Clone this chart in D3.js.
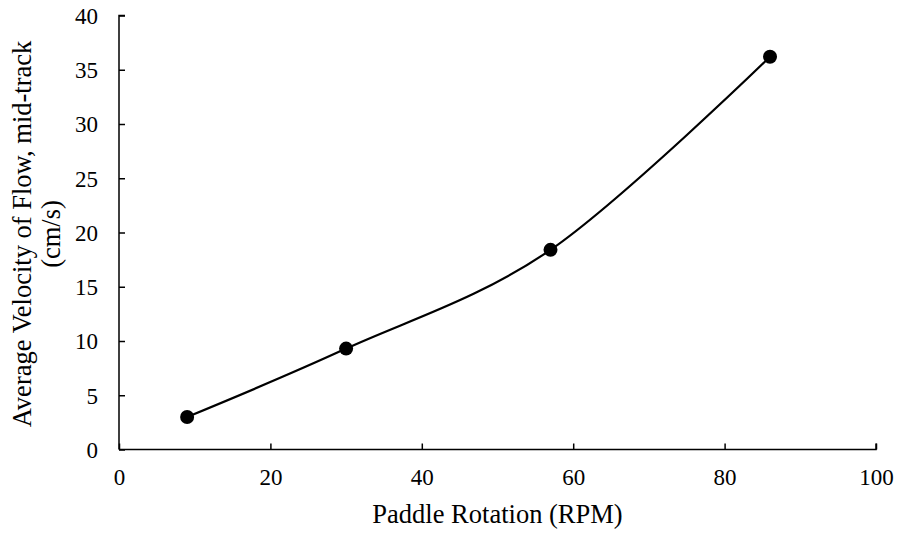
<!DOCTYPE html>
<html>
<head>
<meta charset="utf-8">
<script src="https://cdn.jsdelivr.net/npm/d3@7"></script>
<style>
  body { margin: 0; background: #fff; }
  svg text { font-family: "Liberation Serif", "Times New Roman", serif; fill: #000; }
</style>
</head>
<body>
<svg id="chart" width="902" height="534"></svg>
<script>
(function () {
  // data
  var RPM = [9, 30, 57, 86]
  var VELOCITY = [3.0, 9.3, 18.4, 36.2]
  var X_TICKS = [0, 20, 40, 60, 80, 100]
  var Y_TICKS = [0, 5, 10, 15, 20, 25, 30, 35, 40]
  var X_TITLE = 'Paddle Rotation (RPM)'
  var Y_TITLE = ['Average Velocity of Flow, mid-track', '(cm/s)']

  var TICK_FONT = '23px', TITLE_FONT = '26.5px'

  var svg = d3.select('#chart')
  var plotLeft = 119, plotRight = 876, plotTop = 15.5, plotBottom = 449.5

  var x = d3.scaleLinear().domain([0, 100]).range([plotLeft, plotRight])
  var y = d3.scaleLinear().domain([0, 40]).range([plotBottom, plotTop])

  // axes, ticks pointing inward
  var xAxis = svg.append('g')
    .attr('transform', 'translate(0,' + plotBottom + ')')
    .call(d3.axisBottom(x).tickValues(X_TICKS).tickSize(-6).tickFormat(d3.format('d')))
  var yAxis = svg.append('g')
    .attr('transform', 'translate(' + plotLeft + ',0)')
    .call(d3.axisLeft(y).tickValues(Y_TICKS).tickSize(-6).tickFormat(d3.format('d')))

  ;[xAxis, yAxis].forEach(function (g) {
    g.select('.domain').attr('stroke', '#000').attr('stroke-width', 1.5)
    g.selectAll('.tick line').attr('stroke', '#000').attr('stroke-width', 1.5)
    g.selectAll('.tick text').style('font-size', TICK_FONT).attr('fill', '#000')
  })
  xAxis.selectAll('.tick text').attr('dy', 0).attr('y', 35.5)
  yAxis.selectAll('.tick text').attr('x', -21).attr('dy', '0.34em')
  // only the axis lines, no outer stubs
  xAxis.select('.domain').attr('d', 'M' + plotLeft + ',0H' + plotRight + 'V-6')
  yAxis.select('.domain').attr('d', 'M6,' + plotTop + 'H0V' + plotBottom)

  // titles
  svg.append('text')
    .attr('x', (plotLeft + plotRight) / 2)
    .attr('y', 523)
    .attr('text-anchor', 'middle')
    .style('font-size', TITLE_FONT)
    .text(X_TITLE)

  var yt = svg.append('text')
    .attr('transform', 'translate(31,' + 234 + ') rotate(-90)')
    .attr('text-anchor', 'middle')
    .style('font-size', TITLE_FONT)
  yt.selectAll('tspan').data(Y_TITLE).enter().append('tspan')
    .attr('x', 0)
    .attr('dy', function (d, i) { return i === 0 ? '0' : '1.1em' })
    .text(function (d) { return d })

  // smoothed line + markers
  var pts = RPM.map(function (r, i) { return [r, VELOCITY[i]] })
  var line = d3.line()
    .x(function (d) { return x(d[0]) })
    .y(function (d) { return y(d[1]) })
    .curve(d3.curveCardinal.tension(0))

  svg.append('path')
    .datum(pts)
    .attr('d', line)
    .attr('fill', 'none')
    .attr('stroke', '#000')
    .attr('stroke-width', 2.2)

  svg.selectAll('circle.pt').data(pts).enter().append('circle')
    .attr('class', 'pt')
    .attr('cx', function (d) { return x(d[0]) })
    .attr('cy', function (d) { return y(d[1]) })
    .attr('r', 7)
    .attr('fill', '#000')
})()
</script>
</body>
</html>
